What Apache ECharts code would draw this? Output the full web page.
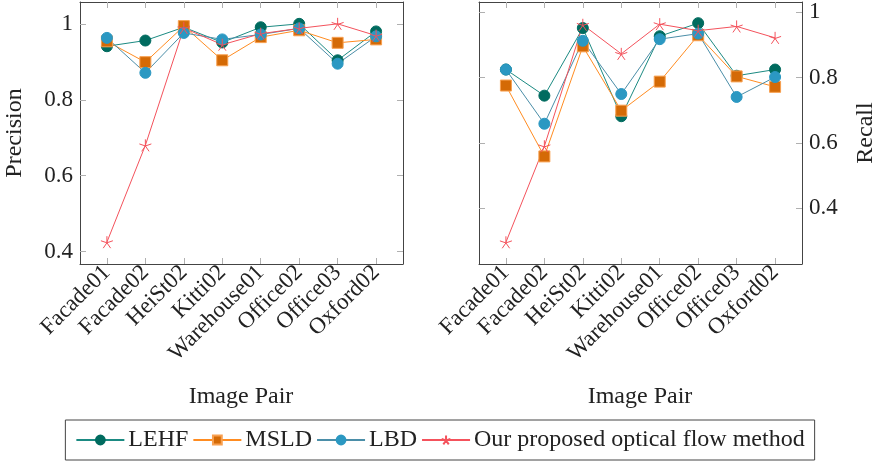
<!DOCTYPE html>
<html>
<head>
    <meta charset="UTF-8">
    <title>Precision / Recall</title>
    <script src="https://cdn.jsdelivr.net/npm/echarts@6/dist/echarts.min.js"></script>
    <style type="text/css">
        html, body, #main {
            height: 100%;
            width: 100%;
            margin: 0;
            padding: 0;
            background: #fff;
        }
    </style>
</head>
<body>
<div id="main"></div>
<script type="text/javascript">
    // 数据
    var categories = ['Facade01', 'Facade02', 'HeiSt02', 'Kitti02', 'Warehouse01', 'Office02', 'Office03', 'Oxford02'];
    var methods = ['LEHF', 'MSLD', 'LBD', 'Our proposed optical flow method'];
    var precisionLEHF = [0.941, 0.956, 0.991, 0.951, 0.991, 1.0, 0.904, 0.980];
    var precisionMSLD = [0.954, 0.899, 0.994, 0.904, 0.965, 0.983, 0.950, 0.959];
    var precisionLBD = [0.963, 0.871, 0.976, 0.959, 0.972, 0.988, 0.895, 0.967];
    var precisionOurs = [0.425, 0.680, 0.989, 0.945, 0.974, 0.988, 1.0, 0.969];
    var recallLEHF = [0.825, 0.745, 0.952, 0.682, 0.927, 0.967, 0.806, 0.825];
    var recallMSLD = [0.776, 0.559, 0.896, 0.699, 0.788, 0.930, 0.804, 0.772];
    var recallLBD = [0.825, 0.659, 0.913, 0.750, 0.918, 0.935, 0.741, 0.802];
    var recallOurs = [0.296, 0.590, 0.962, 0.873, 0.964, 0.944, 0.957, 0.922];
    var yTicks = [0.4, 0.6, 0.8, 1];
    var xTicks = [0, 1, 2, 3, 4, 5, 6, 7];

    var font = 'Liberation Serif';
    var starPath = 'path://M0,-10L0,0M9.51,-3.09L0,0M5.88,8.09L0,0M-5.88,8.09L0,0M-9.51,-3.09L0,0';

    function pairs(arr) {
        return arr.map(function (v, i) { return [i, v]; });
    }

    var styles = [
        {line: '#1b8a82', fill: '#006b5f', border: '#006b5f', symbol: 'circle', size: 11},
        {line: '#ff8c21', fill: '#d46a06', border: '#f8a050', symbol: 'rect', size: 11},
        {line: '#4b8ea8', fill: '#2b98c2', border: '#2b98c2', symbol: 'circle', size: 11},
        {line: '#f4525c', fill: 'none', border: '#f4525c', symbol: starPath, size: 12}
    ];

    function makeSeries(data, idx, axisIdx) {
        var s = styles[idx];
        return {
            name: methods[idx],
            type: 'line',
            xAxisIndex: axisIdx,
            yAxisIndex: axisIdx,
            data: pairs(data),
            symbol: s.symbol,
            symbolSize: s.size,
            showAllSymbol: true,
            lineStyle: {color: s.line, width: 1},
            itemStyle: {color: s.fill, borderColor: s.border, borderWidth: 1},
            emphasis: {disabled: true},
            animation: false
        };
    }

    var boxLine = {show: true, onZero: false, lineStyle: {color: '#444', width: 1}};
    var tickStyle = {show: true, inside: true, length: 6, lineStyle: {color: '#b0b0b0', width: 1}};

    function xAxis(grid, pos, labels) {
        return {
            type: 'value', gridIndex: grid, position: pos,
            min: -0.7, max: 7.7,
            axisLine: boxLine,
            axisTick: Object.assign({customValues: xTicks}, tickStyle),
            splitLine: {show: false},
            axisLabel: {
                show: labels, customValues: xTicks, rotate: 45, margin: 5,
                fontFamily: font, fontSize: 23, color: '#222',
                formatter: function (v) { return categories[Math.round(v)]; }
            }
        };
    }

    function yAxis(grid, pos, labels, min, max) {
        return {
            type: 'value', gridIndex: grid, position: pos,
            min: min, max: max,
            axisLine: boxLine,
            axisTick: Object.assign({customValues: yTicks}, tickStyle),
            splitLine: {show: false},
            axisLabel: {
                show: labels, customValues: yTicks, margin: 7,
                fontFamily: font, fontSize: 23, color: '#222',
                formatter: function (v) { return v === 1 ? '1' : v.toFixed(1); }
            }
        };
    }

    var mycharts = echarts.init(document.getElementById('main'));
    var option = {
        backgroundColor: '#fff',
        grid: [
            {left: 80, top: 2, width: 323, height: 262},
            {left: 479, top: 2, width: 323, height: 262}
        ],
        xAxis: [
            xAxis(0, 'bottom', true), xAxis(0, 'top', false),
            xAxis(1, 'bottom', true), xAxis(1, 'top', false)
        ],
        yAxis: [
            yAxis(0, 'left', true, 0.3675, 1.0575), yAxis(0, 'right', false, 0.3675, 1.0575),
            yAxis(1, 'left', false, 0.2295, 1.0318), yAxis(1, 'right', true, 0.2295, 1.0318)
        ],
        legend: {
            data: methods,
            left: 'center',
            top: 420,
            padding: [8, 10, 8, 10],
            itemGap: 4,
            itemWidth: 48,
            itemHeight: 11,
            borderColor: '#444',
            borderWidth: 1,
            borderRadius: 0,
            textStyle: {fontFamily: font, fontSize: 24, color: '#222', padding: [0, 0, 0, -1]}
        },
        graphic: [
            {type: 'text', x: 15, y: 133, rotation: Math.PI / 2,
                style: {text: 'Precision', font: '24px "Liberation Serif"', fill: '#222', align: 'center', verticalAlign: 'middle'}},
            {type: 'text', x: 866, y: 133, rotation: Math.PI / 2,
                style: {text: 'Recall', font: '24px "Liberation Serif"', fill: '#222', align: 'center', verticalAlign: 'middle'}},
            {type: 'text', x: 241, y: 397,
                style: {text: 'Image Pair', font: '24px "Liberation Serif"', fill: '#222', align: 'center', verticalAlign: 'middle'}},
            {type: 'text', x: 640, y: 397,
                style: {text: 'Image Pair', font: '24px "Liberation Serif"', fill: '#222', align: 'center', verticalAlign: 'middle'}}
        ],
        series: [
            makeSeries(precisionLEHF, 0, 0),
            makeSeries(precisionMSLD, 1, 0),
            makeSeries(precisionLBD, 2, 0),
            makeSeries(precisionOurs, 3, 0),
            makeSeries(recallLEHF, 0, 2),
            makeSeries(recallMSLD, 1, 2),
            makeSeries(recallLBD, 2, 2),
            makeSeries(recallOurs, 3, 2)
        ]
    };
    mycharts.setOption(option);
</script>
</body>
</html>
